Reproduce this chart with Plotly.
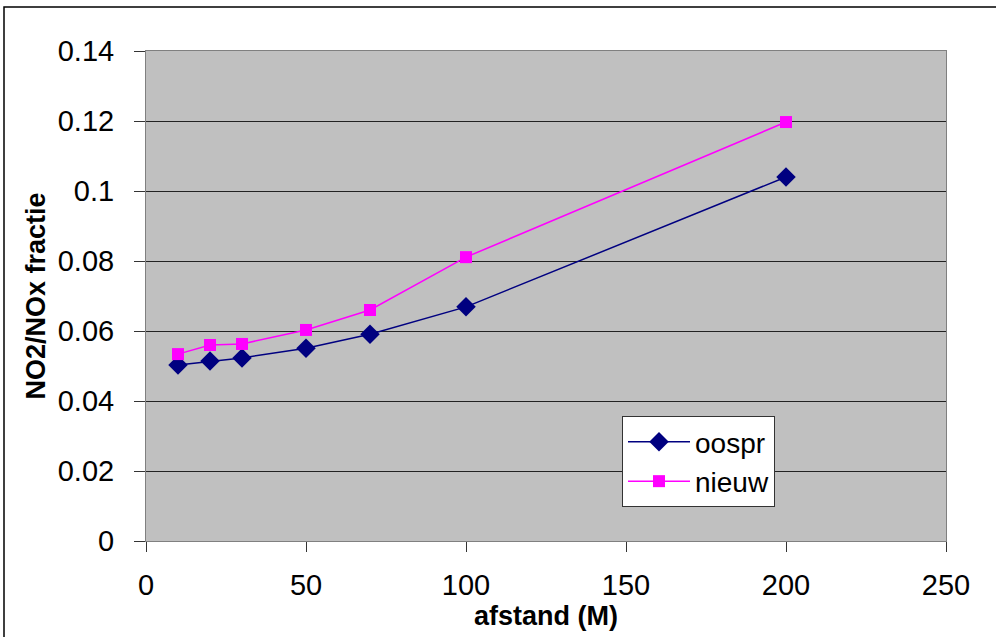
import plotly.graph_objects as go

afstand = [10, 20, 30, 50, 70, 100, 200]
oospr = [0.0503, 0.0514, 0.0523, 0.0551, 0.0591, 0.0669, 0.1040]
nieuw = [0.0534, 0.0560, 0.0563, 0.0603, 0.0660, 0.0811, 0.1197]

fig = go.Figure()
fig.add_trace(go.Scatter(x=afstand, y=oospr, mode="lines+markers", name="oospr",
                         line=dict(color="#000080", width=1.5),
                         marker=dict(symbol="diamond", size=15, color="#000080")))
fig.add_trace(go.Scatter(x=afstand, y=nieuw, mode="lines+markers", name="nieuw",
                         line=dict(color="#FF00FF", width=1.5),
                         marker=dict(symbol="square", size=12, color="#FF00FF")))

font = "Liberation Sans, Arial, sans-serif"
fig.update_layout(
    width=996, height=637,
    margin=dict(l=146, r=50, t=51, b=96),
    paper_bgcolor="white", plot_bgcolor="#C0C0C0",
    font=dict(family=font, color="black", size=29),
    showlegend=True,
    legend=dict(x=0.595, y=0.255, xanchor="left", yanchor="top",
                bgcolor="white", bordercolor="#333", borderwidth=1,
                itemwidth=62,
                font=dict(size=28, family=font), tracegroupgap=2),
    xaxis=dict(range=[0, 250], dtick=50, showgrid=False, zeroline=False,
               ticks="outside", ticklen=10, tickcolor="#333", showline=True,
               linecolor="#808080", linewidth=1, mirror=True, ticklabelstandoff=8,
               title=dict(text="<b>afstand (M)</b>", font=dict(size=27), standoff=2),
               tickfont=dict(size=29)),
    yaxis=dict(range=[0, 0.14], dtick=0.02, showgrid=True, gridcolor="#222",
               gridwidth=1, zeroline=False, ticks="outside", ticklen=11,
               tickcolor="#333", showline=True, linecolor="#808080", linewidth=1,
               mirror=True, tickformat="~g", ticklabelstandoff=14,
               title=dict(text="<b>NO2/NOx fractie</b>", font=dict(size=27), standoff=4),
               tickfont=dict(size=29)),
)
fig.add_shape(type="rect", xref="paper", yref="paper",
              x0=(4 - 146) / 800, x1=(1010 - 146) / 800,
              y0=(541 - 660) / 490, y1=(541 - 7) / 490,
              line=dict(color="black", width=1.5), fillcolor="rgba(0,0,0,0)", layer="below")
fig.write_html("out.html")
